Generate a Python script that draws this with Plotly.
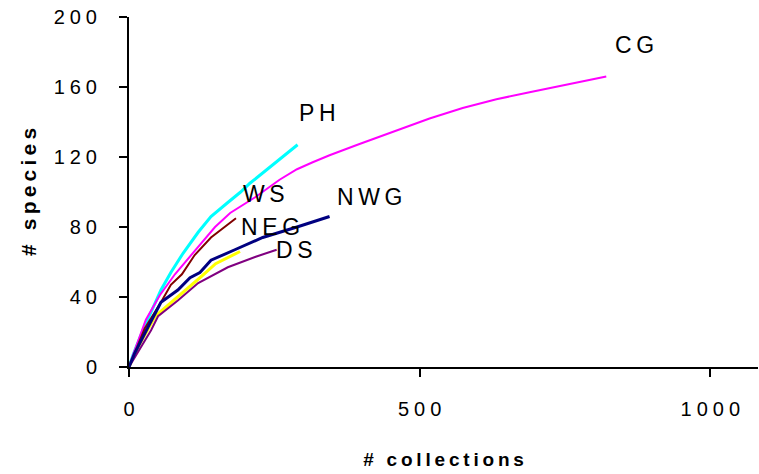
import plotly.graph_objects as go

# Data (species accumulation curves)
ph_x = [0, 7, 24, 41, 55, 72, 93, 119, 141, 170, 192, 208, 242, 290]
ph_y = [0, 7, 21, 34, 44, 54, 65, 77, 86, 94, 100, 105, 114, 127]

cg_x = [0, 7, 29, 53, 79, 119, 148, 174, 217, 259, 289, 316, 345, 393, 460, 517, 574, 632, 689, 746, 821]
cg_y = [0, 7, 27, 41, 53, 69, 80, 88, 97, 107, 113, 117, 121, 127, 135, 142, 148, 153, 157, 161, 166]

ws_x = [0, 7, 27, 55, 72, 91, 113, 141, 184]
ws_y = [0, 6, 22, 37, 47, 53, 64, 74, 85]

nwg_x = [0, 10, 33, 55, 84, 105, 122, 141, 182, 230, 289, 345]
nwg_y = [0, 8, 23, 37, 44, 51, 54, 61, 67, 74, 80, 86]

neg_x = [0, 15, 45, 84, 122, 149, 191]
neg_y = [0, 11, 29, 40, 51, 59, 66]

ds_x = [0, 15, 38, 50, 84, 119, 170, 218, 254]
ds_y = [0, 8, 21, 29, 38, 48, 57, 63, 67]

labels = ["CG", "PH", "WS", "NEG", "DS", "NWG"]
label_x = [869, 325, 232, 244, 285, 414]
label_y = [184, 145, 99, 80, 67, 97]

x_ticks = [0, 500, 1000]
y_ticks = [0, 40, 80, 120, 160, 200]

TS = "\u2009"

def spaced(v, sep="\u2005"):
    return sep.join(str(v))

fig = go.Figure()
series = [
    ("PH", ph_x, ph_y, "#00FFFF", 3),
    ("CG", cg_x, cg_y, "#FF00FF", 2),
    ("WS", ws_x, ws_y, "#800000", 2),
    ("NEG", neg_x, neg_y, "#FFFF00", 3),
    ("DS", ds_x, ds_y, "#800080", 2),
    ("NWG", nwg_x, nwg_y, "#000080", 3),
]
for name, xs, ys, col, w in series:
    fig.add_trace(go.Scatter(x=xs, y=ys, mode="lines", name=name,
                             line=dict(color=col, width=w), showlegend=False,
                             hoverinfo="skip"))

for t, lx, ly in zip(labels, label_x, label_y):
    fig.add_annotation(x=lx, y=ly, text=spaced(t, TS), showarrow=False,
                       font=dict(family="Liberation Sans, Arial", size=23, color="black"))

fig.update_layout(
    width=759, height=474,
    margin=dict(l=129, r=1, t=17, b=107),
    plot_bgcolor="white", paper_bgcolor="white",
    font=dict(family="Liberation Sans, Arial", color="black"),
    xaxis=dict(
        range=[0, 1082], tickvals=x_ticks, ticktext=[spaced(v) for v in x_ticks],
        ticks="outside", ticklen=8, tickwidth=2, tickcolor="black",
        showline=True, linecolor="black", linewidth=2,
        showgrid=False, zeroline=False, automargin=False,
        tickfont=dict(size=20), ticklabelstandoff=15,
        title=dict(text="<b>" + TS.join("# collections") + "</b>",
                   font=dict(size=19), standoff=34),
    ),
    yaxis=dict(
        range=[0, 200], tickvals=y_ticks, ticktext=[spaced(v) for v in y_ticks],
        ticks="outside", ticklen=8, tickwidth=2, tickcolor="black",
        showline=True, linecolor="black", linewidth=2,
        showgrid=False, zeroline=False, automargin=False,
        tickfont=dict(size=20), ticklabelstandoff=18,
        title=dict(text="<b>" + TS.join("# species") + "</b>",
                   font=dict(size=21), standoff=11),
    ),
)

fig.write_html("out.html", config={"displayModeBar": False})

# remove the default page margin so the figure sits at the window's origin
with open("out.html", "r", encoding="utf-8") as f:
    html = f.read()
html = html.replace("<head>", "<head><style>html,body{margin:0;padding:0;overflow:hidden;}</style>", 1)
with open("out.html", "w", encoding="utf-8") as f:
    f.write(html)
